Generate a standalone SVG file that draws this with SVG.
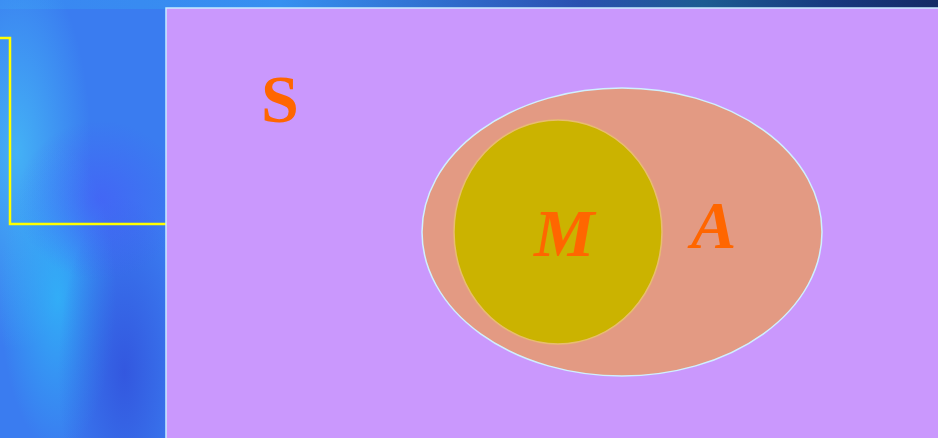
<svg xmlns="http://www.w3.org/2000/svg" width="938" height="438" viewBox="0 0 938 438">
<defs>
<linearGradient id="top" x1="0" y1="0" x2="1" y2="0">
<stop offset="0" stop-color="#3a86f2"/>
<stop offset="0.3" stop-color="#3690f0"/>
<stop offset="0.62" stop-color="#2a50b0"/>
<stop offset="0.75" stop-color="#1c5c92"/>
<stop offset="0.88" stop-color="#183a80"/>
<stop offset="1" stop-color="#142a66"/>
</linearGradient>
<radialGradient id="g1" cx="0.1" cy="0.35" r="0.45">
<stop offset="0" stop-color="#48c8f8" stop-opacity="0.7"/>
<stop offset="1" stop-color="#48c8f8" stop-opacity="0"/>
</radialGradient>
<radialGradient id="g2" cx="0.35" cy="0.68" r="0.35">
<stop offset="0" stop-color="#30b8f8" stop-opacity="0.8"/>
<stop offset="1" stop-color="#30b8f8" stop-opacity="0"/>
</radialGradient>
<radialGradient id="g3" cx="0.75" cy="0.85" r="0.4">
<stop offset="0" stop-color="#3048d8" stop-opacity="0.7"/>
<stop offset="1" stop-color="#3048d8" stop-opacity="0"/>
</radialGradient>
<radialGradient id="g4" cx="0.6" cy="0.5" r="0.5">
<stop offset="0" stop-color="#4858f8" stop-opacity="0.6"/>
<stop offset="1" stop-color="#4858f8" stop-opacity="0"/>
</radialGradient>
<style>
.lbl{font-family:"Liberation Serif","Times New Roman",serif;font-weight:bold;fill:#ff6600;font-size:68px}
.it{font-style:italic}
</style>
</defs>
<g id="background">
<rect x="0" y="0" width="938" height="438" fill="#3a7cf0"/>
<rect x="0" y="0" width="938" height="9" fill="url(#top)"/>
<rect x="0" y="0" width="166" height="438" fill="url(#g1)"/>
<rect x="0" y="0" width="166" height="438" fill="url(#g2)"/>
<rect x="0" y="0" width="166" height="438" fill="url(#g3)"/>
<rect x="0" y="120" width="166" height="160" fill="url(#g4)"/>
<polyline points="0,38 10,38 10,224 166,224" fill="none" stroke="#ffff00" stroke-width="2.5"/>
</g>
<g id="S">
<rect x="166" y="8" width="774" height="432" fill="#ca98fd" stroke="#c8ecff" stroke-width="1.5"/>
<text class="lbl" x="261" y="122">S</text>
</g>
<g id="A">
<ellipse cx="622" cy="232" rx="200" ry="144" fill="#e39a83" stroke="#d0f0ff" stroke-width="1.5"/>
<text class="lbl it" x="691" y="248">A</text>
</g>
<g id="M">
<ellipse cx="558" cy="232" rx="104" ry="112" fill="#cbb300" stroke="#e8bd70" stroke-width="1.5"/>
<text class="lbl it" x="534" y="256">M</text>
</g>
<g id="connectors"/>
</svg>
